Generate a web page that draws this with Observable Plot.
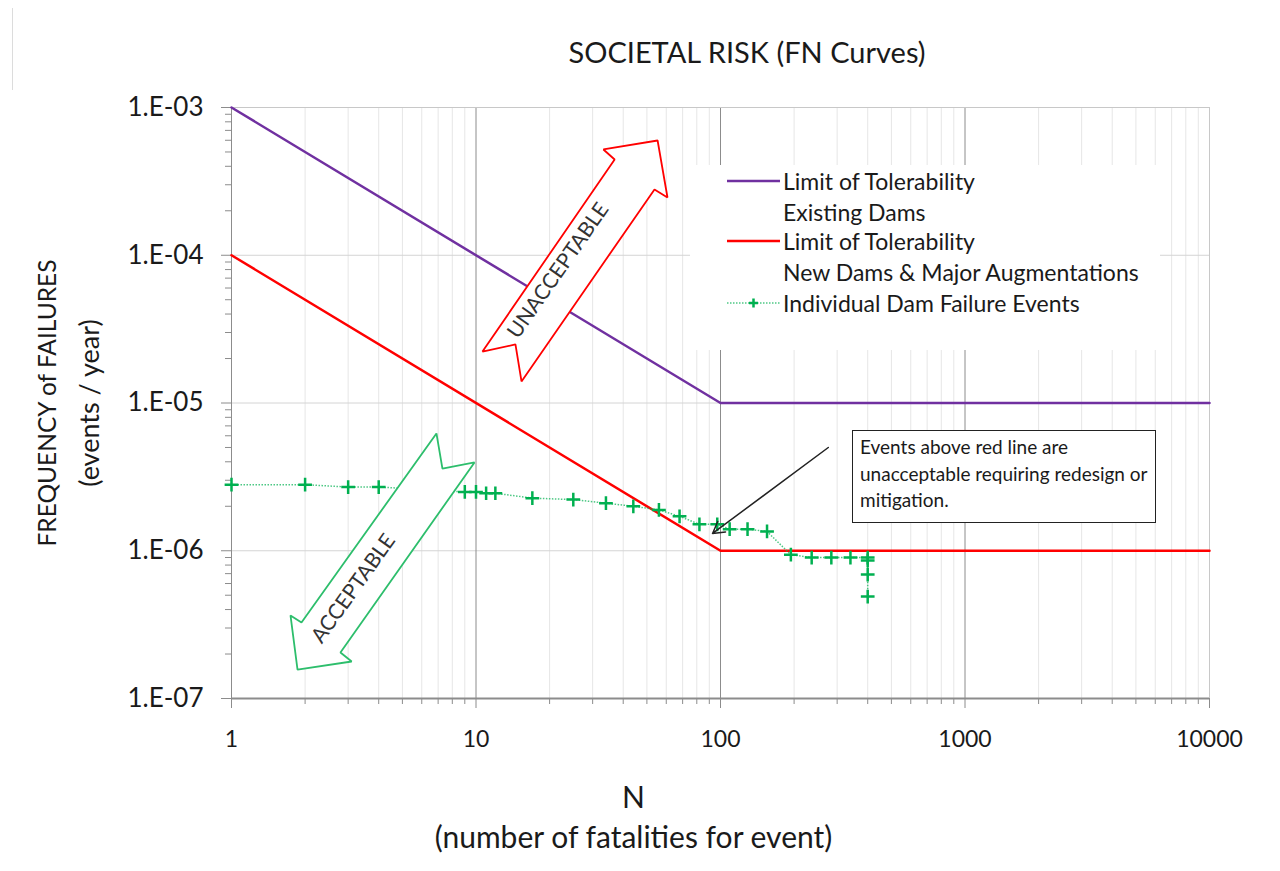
<!DOCTYPE html>
<html><head><meta charset="utf-8">
<script src="https://cdn.jsdelivr.net/npm/d3@7"></script>
<script src="https://cdn.jsdelivr.net/npm/@observablehq/plot@0.6"></script>
<style>
body{margin:0;background:#fff;font-family:Lato,sans-serif;color:#1a1a1a;}
#wrap{position:relative;width:1280px;height:871px;overflow:hidden;background:#fff;}
#border{position:absolute;left:12px;top:8px;width:0;height:863px;border-left:1px solid #dcdcdc;}
#title{position:absolute;left:747px;top:35px;transform:translateX(-50%);font-size:29px;line-height:34px;white-space:nowrap;}
#chart{position:absolute;left:0;top:90px;}
#legend{position:absolute;left:690px;top:165px;width:470px;height:185px;background:#fff;}
#legend .row{position:absolute;left:93px;font-size:23px;line-height:26px;white-space:nowrap;transform:translateY(-50%);}
#legend svg{position:absolute;left:0;top:0;}
#note{position:absolute;left:852px;top:430px;width:304px;height:93px;border:1.5px solid #222;background:#fff;font-size:19px;line-height:26.5px;padding:3px 0 0 7px;box-sizing:border-box;white-space:nowrap;}
</style></head><body>
<div id="wrap">
  <div id="border"></div>
  <div id="title">SOCIETAL RISK (FN Curves)</div>
  <div id="chart"></div>
  <div id="legend">
    <svg width="100" height="185">
      <line x1="37" x2="90" y1="16" y2="16" stroke="#7030A0" stroke-width="2.5"/>
      <line x1="37" x2="90" y1="76" y2="76" stroke="#FF0000" stroke-width="2.5"/>
      <line x1="37" x2="90" y1="138" y2="138" stroke="#00B050" stroke-opacity="0.7" stroke-width="1.5" stroke-dasharray="1.5 1.5"/>
      <path d="M59,138h9M63.5,133.5v9" stroke="#00B050" stroke-width="2.5"/>
    </svg>
    <div class="row" style="top:16px">Limit of Tolerability</div>
    <div class="row" style="top:47px">Existing Dams</div>
    <div class="row" style="top:76px">Limit of Tolerability</div>
    <div class="row" style="top:107px">New Dams &amp; Major Augmentations</div>
    <div class="row" style="top:138px">Individual Dam Failure Events</div>
  </div>
  <div id="note">Events above red line are<br>unacceptable requiring redesign or<br>mitigation.</div>
</div>
<script>
// ---- data ----
const limitN = [1, 100, 10000];
const existingDamsF = [1e-3, 1e-5, 1e-5];
const newDamsF = [1e-4, 1e-6, 1e-6];

const eventN = [1, 2, 3, 4, 9, 10, 11, 12, 17, 25, 34, 44, 56, 68, 82, 97, 109, 129, 155, 194, 236, 284, 340, 400, 400, 400, 400];
const eventF = [2.8e-6, 2.8e-6, 2.7e-6, 2.7e-6, 2.5e-6, 2.5e-6, 2.45e-6, 2.45e-6, 2.27e-6, 2.22e-6, 2.1e-6, 2.0e-6, 1.89e-6, 1.71e-6, 1.51e-6, 1.51e-6, 1.4e-6, 1.4e-6, 1.35e-6, 9.4e-7, 9.0e-7, 9.0e-7, 9.0e-7, 9.0e-7, 8.6e-7, 6.9e-7, 4.9e-7];

const xTicks = [1, 10, 100, 1000, 10000];
const xTickLabels = ["1", "10", "100", "1000", "10000"];
const yTicks = [1e-7, 1e-6, 1e-5, 1e-4, 1e-3];
const yTickLabels = ["1.E-07", "1.E-06", "1.E-05", "1.E-04", "1.E-03"];

// annotation shapes (data coordinates)
const unacceptN = [55.3, 60.7, 53.7, 15.35, 14.5, 10.63, 36.9, 33.2];
const unacceptF = [5.98e-4, 2.46e-4, 2.79e-4, 1.40e-5, 2.49e-5, 2.23e-5, 4.45e-4, 5.20e-4];
const acceptN = [1.862, 1.743, 1.933, 6.89, 7.29, 9.86, 2.79, 3.10];
const acceptF = [1.57e-7, 3.65e-7, 3.27e-7, 6.22e-6, 3.60e-6, 3.96e-6, 2.05e-7, 1.78e-7];
const arrowLabels = ["UNACCEPTABLE", "ACCEPTABLE"];
const arrowLabelN = [21.7, 3.155];
const arrowLabelF = [7.88e-5, 5.55e-7];
const noteArrow = [{n1: 276, f1: 5.0e-6, n2: 92.8, f2: 1.31e-6}];

// ---- derived tables ----
const existing = limitN.map((n, i) => ({n, f: existingDamsF[i]}));
const newer = limitN.map((n, i) => ({n, f: newDamsF[i]}));
const events = eventN.map((n, i) => ({n, f: eventF[i]}));
const unaccept = unacceptN.map((n, i) => ({n, f: unacceptF[i]}));
const accept = acceptN.map((n, i) => ({n, f: acceptF[i]}));
const minorX = [1, 10, 100, 1000].flatMap(d => [2,3,4,5,6,7,8,9].map(k => k * d));
const minorY = [1e-7, 1e-6, 1e-5, 1e-4].flatMap(d => [2,3,4,5,6,7,8,9].map(k => k * d));
const xLab = new Map(xTicks.map((t, i) => [t, xTickLabels[i]]));
const yLab = new Map(yTicks.map((t, i) => [t, yTickLabels[i]]));

const chart = Plot.plot({
  width: 1280,
  height: 781,
  marginTop: 17,
  marginLeft: 231,
  marginRight: 71,
  marginBottom: 173,
  style: {fontFamily: "Lato, sans-serif", color: "#1a1a1a", background: "#fff"},
  x: {type: "log", domain: [1, 10000]},
  y: {type: "log", domain: [1e-7, 1e-3]},
  marks: [
    Plot.gridX(minorX, {stroke: "#e6e6e6", strokeOpacity: 1}),
    Plot.gridY([1e-6, 1e-5, 1e-4], {stroke: "#d4d4d4", strokeOpacity: 1}),
    Plot.gridX([10, 100, 1000], {stroke: "#8c8c8c", strokeOpacity: 1}),
    Plot.frame({stroke: "#c8c8c8"}),
    Plot.ruleX([1], {stroke: "#8c8c8c"}),
    Plot.ruleY([1e-7], {stroke: "#8c8c8c", strokeWidth: 2}),
    Plot.axisX(xTicks, {tickSize: 10, tickPadding: 22, fontSize: 23, stroke: "#8c8c8c", tickFormat: d => xLab.get(d), label: null}),
    Plot.axisX(minorX, {tickSize: 6, stroke: "#8c8c8c", tickFormat: () => "", label: null}),
    Plot.axisY(yTicks, {tickSize: 10, tickPadding: 18, fontSize: 26, stroke: "#8c8c8c", tickFormat: d => yLab.get(d), label: null}),
    Plot.axisY(minorY, {tickSize: 6, stroke: "#8c8c8c", tickFormat: () => "", label: null}),
    Plot.line(existing, {x: "n", y: "f", stroke: "#7030A0", strokeWidth: 2.5}),
    Plot.line(newer, {x: "n", y: "f", stroke: "#FF0000", strokeWidth: 2.5}),
    Plot.line(events, {x: "n", y: "f", stroke: "#00B050", strokeOpacity: 0.7, strokeWidth: 1.5, strokeDasharray: "1.5 1.5", strokeLinecap: "butt"}),
    Plot.dot(events, {x: "n", y: "f", symbol: "plus", r: 4.5, stroke: "#00B050", strokeWidth: 2.5}),
    Plot.line(unaccept, {x: "n", y: "f", curve: "linear-closed", fill: "#fff", stroke: "#FF0000", strokeWidth: 1.8, strokeLinejoin: "miter"}),
    Plot.line(accept, {x: "n", y: "f", curve: "linear-closed", fill: "#fff", stroke: "#2DBE6C", strokeWidth: 1.8, strokeLinejoin: "miter"}),
    Plot.text([arrowLabels[0]], {x: () => arrowLabelN[0], y: () => arrowLabelF[0], text: d => d, rotate: -55, fontSize: 21, fill: "#333"}),
    Plot.text([arrowLabels[1]], {x: () => arrowLabelN[1], y: () => arrowLabelF[1], text: d => d, rotate: -54.5, fontSize: 21, fill: "#333"}),
    Plot.arrow(noteArrow, {x1: "n1", y1: "f1", x2: "n2", y2: "f2", stroke: "#222", strokeWidth: 1.5, headLength: 13}),
    Plot.text(["FREQUENCY of FAILURES"], {frameAnchor: "left", textAnchor: "middle", lineAnchor: "middle", dx: -183, rotate: -90, fontSize: 24.5, fill: "#1a1a1a"}),
    Plot.text(["(events / year)"], {frameAnchor: "left", textAnchor: "middle", lineAnchor: "middle", dx: -141, rotate: -90, fontSize: 27, fill: "#1a1a1a"}),
    Plot.text(["N"], {frameAnchor: "bottom", textAnchor: "middle", lineAnchor: "middle", dx: -87, dy: 100, fontSize: 30, fill: "#1a1a1a"}),
    Plot.text(["(number of fatalities for event)"], {frameAnchor: "bottom", textAnchor: "middle", lineAnchor: "middle", dx: -87, dy: 140, fontSize: 30, fill: "#1a1a1a"})
  ]
});
document.getElementById("chart").appendChild(chart);
</script>
</body></html>
